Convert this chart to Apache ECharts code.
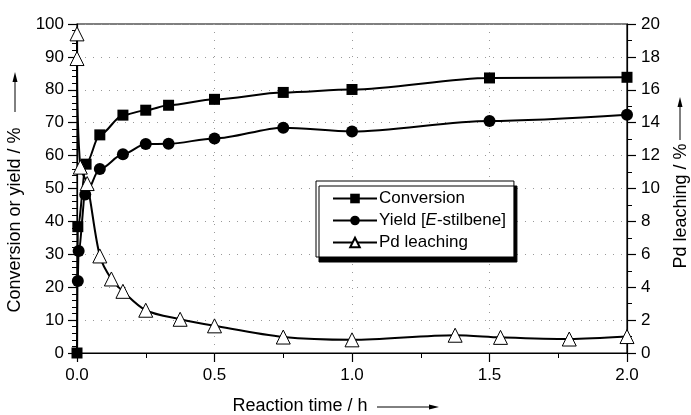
<!DOCTYPE html>
<html>
<head>
<meta charset="utf-8">
<script src="https://cdn.jsdelivr.net/npm/echarts@6/dist/echarts.min.js"></script>
<style>
  html, body { margin: 0; padding: 0; background: #fff; }
  #chart { width: 691px; height: 415px; }
</style>
</head>
<body>
<div id="chart"></div>
<script>
// reaction time (h) and values
var convTime = [0, 0.003, 0.033, 0.083, 0.167, 0.25, 0.333, 0.5, 0.75, 1.0, 1.5, 2.0];
var convValue = [0, 38.4, 57.4, 66.3, 72.3, 73.8, 75.3, 77.1, 79.2, 80.1, 83.6, 83.8];

var yieldTime = [0.003, 0.006, 0.03, 0.083, 0.167, 0.25, 0.333, 0.5, 0.75, 1.0, 1.5, 2.0];
var yieldValue = [21.9, 31.0, 48.2, 55.9, 60.4, 63.5, 63.6, 65.2, 68.5, 67.3, 70.5, 72.4];

var pdTime = [0, 0, 0.012, 0.037, 0.083, 0.125, 0.167, 0.25, 0.375, 0.5, 0.75, 1.0, 1.375, 1.54, 1.79, 2.0];
var pdValue = [19.4, 17.9, 11.3, 10.3, 5.9, 4.5, 3.75, 2.6, 2.05, 1.65, 0.97, 0.8, 1.08, 0.95, 0.85, 1.0];

function pairs(xs, ys) {
  var out = [];
  for (var i = 0; i < xs.length; i++) out.push([xs[i], ys[i]]);
  return out;
}

var chart = echarts.init(document.getElementById('chart'));
var font = 'Liberation Sans, Arial, sans-serif';
var titleStyle = { fontFamily: font, fontSize: 18, fill: '#000', align: 'center', verticalAlign: 'middle' };
var gridLine = { show: true, lineStyle: { color: '#999', type: [1, 7], width: 1 } };

chart.setOption({
  animation: false,
  textStyle: { fontFamily: font, color: '#000' },
  grid: {
    left: 77, right: 64, top: 24, bottom: 62,
    show: true, borderColor: '#000', borderWidth: 1.2
  },
  legend: {
    left: 316, top: 181,
    orient: 'vertical',
    backgroundColor: '#fff',
    borderColor: '#000',
    borderWidth: 1,
    borderRadius: 0,
    shadowColor: '#000',
    shadowOffsetX: 3,
    shadowOffsetY: 5,
    shadowBlur: 0,
    padding: [9, 8, 6, 16],
    itemGap: 5,
    itemWidth: 44,
    itemHeight: 12,
    textStyle: {
      fontFamily: font, fontSize: 17, color: '#000', padding: [0, 0, 0, -3],
      rich: {
        n: { fontFamily: font, fontSize: 17, color: '#000' },
        i: { fontFamily: font, fontSize: 17, color: '#000', fontStyle: 'italic' }
      }
    },
    formatter: function (name) {
      if (name === 'Yield [E-stilbene]') return '{n|Yield [}{i|E}{n|-stilbene]}';
      return name;
    },
    data: ['Conversion', 'Yield [E-stilbene]', 'Pd leaching']
  },
  xAxis: {
    type: 'value',
    min: 0, max: 2, interval: 0.5,
    axisLine: { lineStyle: { color: '#000', width: 1.2 } },
    axisTick: { length: 9, lineStyle: { color: '#000', width: 1.2 } },
    minorTick: { show: true, splitNumber: 2, length: 5, lineStyle: { color: '#000' } },
    axisLabel: {
      fontSize: 17, color: '#000', margin: 14,
      formatter: function (v) { return v.toFixed(1); }
    },
    splitLine: gridLine
  },
  yAxis: [{
    type: 'value',
    min: 0, max: 100, interval: 10,
    axisLine: { show: true, lineStyle: { color: '#000', width: 1.2 } },
    axisTick: { length: 9, lineStyle: { color: '#000', width: 1.2 } },
    minorTick: { show: true, splitNumber: 5, length: 5, lineStyle: { color: '#000' } },
    axisLabel: { fontSize: 17, color: '#000', margin: 13 },
    splitLine: gridLine
  }, {
    type: 'value',
    min: 0, max: 20, interval: 2,
    position: 'right',
    axisLine: { show: true, lineStyle: { color: '#000', width: 1.2 } },
    axisTick: { length: 9, lineStyle: { color: '#000', width: 1.2 } },
    minorTick: { show: true, splitNumber: 2, length: 5, lineStyle: { color: '#000' } },
    axisLabel: { fontSize: 17, color: '#000', margin: 14 },
    splitLine: { show: false }
  }],
  graphic: [
    // axis titles with their arrows
    { type: 'text', x: 300, y: 406, style: Object.assign({ text: 'Reaction time / h' }, titleStyle) },
    { type: 'line', shape: { x1: 377, y1: 407, x2: 430, y2: 407 }, style: { stroke: '#000', lineWidth: 1 } },
    { type: 'polygon', shape: { points: [[439, 407], [429, 404.5], [429, 409.5]] }, style: { fill: '#000' } },

    { type: 'text', x: 15, y: 220, rotation: Math.PI / 2, style: Object.assign({ text: 'Conversion or yield / %' }, titleStyle) },
    { type: 'line', shape: { x1: 15, y1: 112, x2: 15, y2: 80 }, style: { stroke: '#000', lineWidth: 1 } },
    { type: 'polygon', shape: { points: [[15, 72], [12.5, 82], [17.5, 82]] }, style: { fill: '#000' } },

    { type: 'text', x: 681, y: 206, rotation: Math.PI / 2, style: Object.assign({ text: 'Pd leaching / %' }, titleStyle) },
    { type: 'line', shape: { x1: 680, y1: 140, x2: 680, y2: 105 }, style: { stroke: '#000', lineWidth: 1 } },
    { type: 'polygon', shape: { points: [[680, 97], [677.5, 107], [682.5, 107]] }, style: { fill: '#000' } }
  ],
  series: [{
    name: 'Conversion',
    type: 'line',
    data: pairs(convTime, convValue),
    smooth: 0.3,
    smoothMonotone: 'x',
    symbol: 'rect',
    symbolSize: 11,
    itemStyle: { color: '#000' },
    lineStyle: { color: '#000', width: 2 },
    z: 3
  }, {
    name: 'Yield [E-stilbene]',
    type: 'line',
    data: pairs(yieldTime, yieldValue),
    smooth: 0.3,
    smoothMonotone: 'x',
    symbol: 'circle',
    symbolSize: 12,
    itemStyle: { color: '#000' },
    lineStyle: { color: '#000', width: 2 },
    z: 3
  }, {
    name: 'Pd leaching',
    type: 'line',
    yAxisIndex: 1,
    data: pairs(pdTime, pdValue),
    smooth: 0.3,
    symbol: 'triangle',
    symbolSize: 14,
    itemStyle: { color: '#fff', borderColor: '#000', borderWidth: 1 },
    lineStyle: { color: '#000', width: 2 },
    z: 4
  }]
});
</script>
</body>
</html>
